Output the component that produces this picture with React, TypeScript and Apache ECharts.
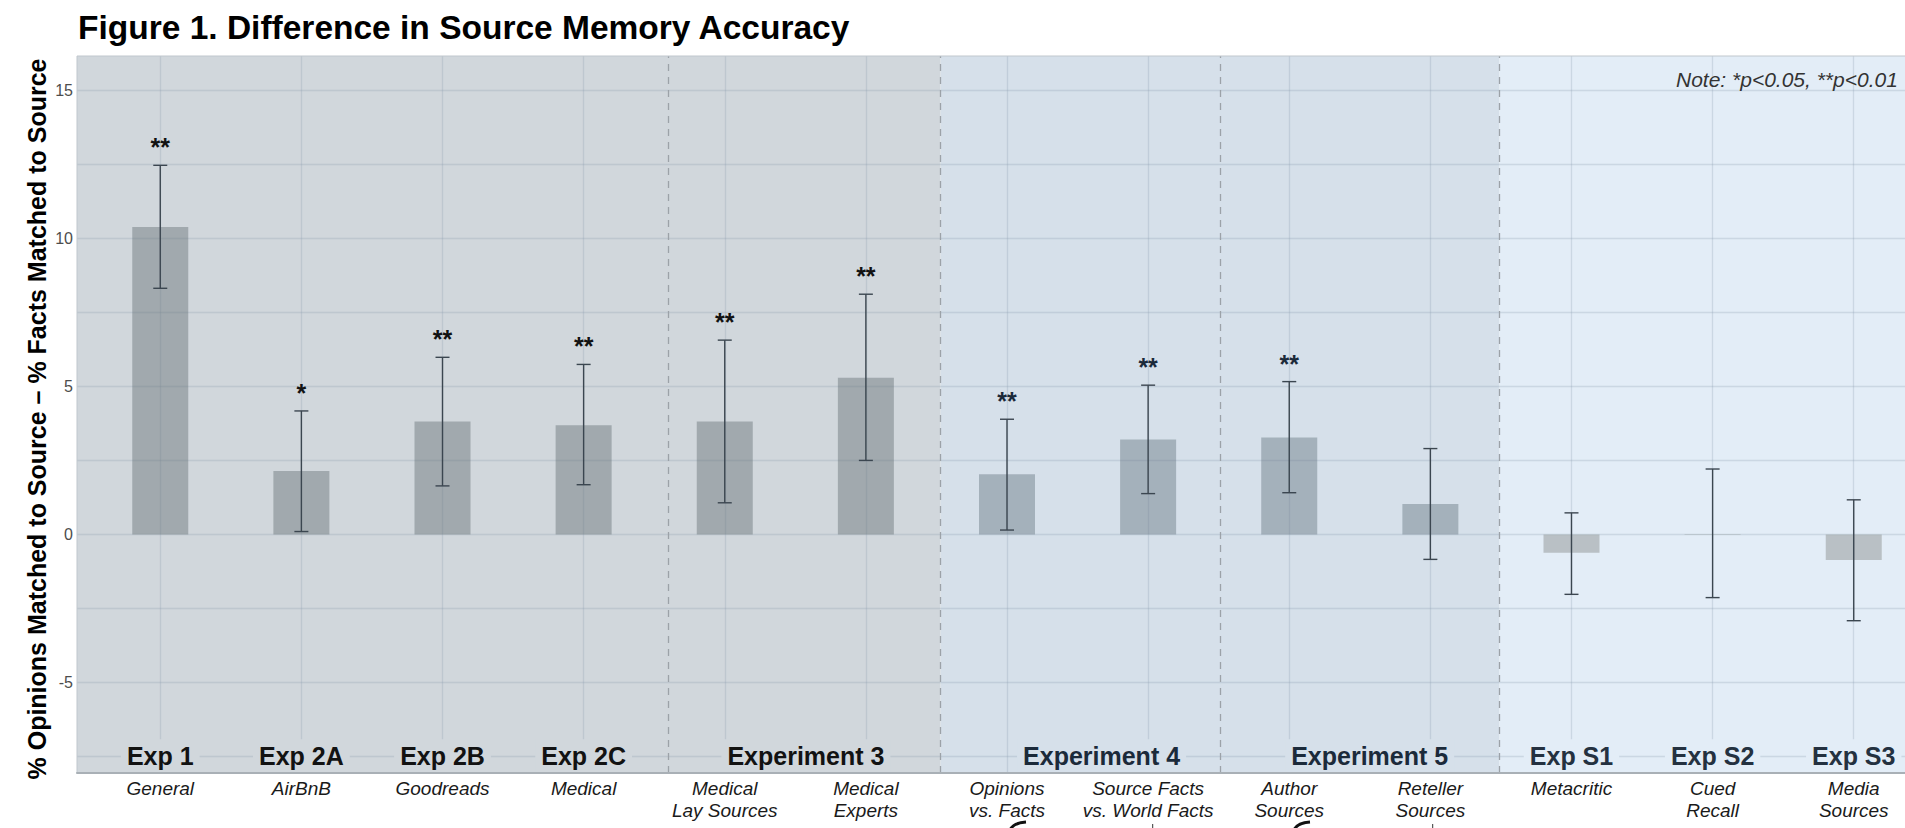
import React, { useEffect, useRef } from 'react';
import * as echarts from 'echarts';

// ---------- data ----------
const categories = [
  'General', 'AirBnB', 'Goodreads', 'Medical', 'Medical\nLay Sources', 'Medical\nExperts',
  'Opinions\nvs. Facts', 'Source Facts\nvs. World Facts', 'Author\nSources', 'Reteller\nSources',
  'Metacritic', 'Cued\nRecall', 'Media\nSources',
];
const means = [10.38, 2.14, 3.81, 3.69, 3.81, 5.29, 2.03, 3.21, 3.27, 1.03, -0.62, 0.02, -0.86];
const ciLow = [8.31, 0.10, 1.64, 1.68, 1.07, 2.50, 0.15, 1.38, 1.41, -0.84, -2.02, -2.13, -2.91];
const ciHigh = [12.46, 4.17, 5.98, 5.74, 6.56, 8.11, 3.89, 5.04, 5.16, 2.90, 0.73, 2.21, 1.17];
const stars = ['**', '*', '**', '**', '**', '**', '**', '**', '**', '', '', '', ''];
const groupNames = ['Exp 1', 'Exp 2A', 'Exp 2B', 'Exp 2C', 'Experiment 3', 'Experiment 4', 'Experiment 5', 'Exp S1', 'Exp S2', 'Exp S3'];
const groupCenters = [0, 1, 2, 3, 4.575, 6.67, 8.57, 10, 11, 12];
const yTickValues = [-5, 0, 5, 10, 15];
const yGridValues = [-7.5, -5, -2.5, 0, 2.5, 5, 7.5, 10, 12.5, 15];

// ---------- layout / style ----------
const X_MIN = -0.59;
const X_MAX = 12.59;
const Y_MIN = -8.05;
const Y_MAX = 16.15;
const GROUP_LABEL_Y = -7.47;
const regionEdges = [X_MIN, 5.53, 9.49, X_MAX];
const dashedAt = [3.6, 5.53, 7.506, 9.49];
const regionFill = ['#d1d7dc', '#d6e0ea', '#e3edf7'];
const barFill = ['rgba(102,113,118,0.45)', 'rgba(105,120,130,0.45)', 'rgba(134,137,136,0.45)'];
const textInk = ['#121212', '#1b2a3a', '#243140'];
const FONT = "'Liberation Sans', Arial, Helvetica, sans-serif";

const regionOf = (x: number) => (x < regionEdges[1] ? 0 : x < regionEdges[2] ? 1 : 2);

export default function App() {
  const ref = useRef<HTMLDivElement>(null);

  useEffect(() => {
    if (!ref.current) return;
    const chart = echarts.init(ref.current, undefined, { renderer: 'svg' });

    const option: any = {
      animation: false,
      backgroundColor: '#ffffff',
      grid: {
        left: 77, top: 56, width: 1860, height: 717,
        show: true, z: 20, borderColor: '#c0c7cd', borderWidth: 1, backgroundColor: 'transparent',
      },
      xAxis: {
        type: 'value', min: X_MIN, max: X_MAX,
        axisLine: { show: true, onZero: false, lineStyle: { color: '#a9b0b6', width: 2 } },
        axisTick: { show: false },
        splitLine: { show: false },
        z: 20,
        axisLabel: {
          customValues: categories.map((_, i) => i),
          formatter: (v: number) => categories[Math.round(v)] ?? '',
          fontStyle: 'italic', fontSize: 19, lineHeight: 22, color: '#1a1a1a',
          fontFamily: FONT, margin: 4,
        },
      },
      yAxis: {
        type: 'value', min: Y_MIN, max: Y_MAX,
        axisLine: { show: false },
        splitLine: { show: false },
        axisTick: { show: true, customValues: yTickValues, length: 5, lineStyle: { color: '#9a9a9a' } },
        axisLabel: { customValues: yTickValues, color: '#4d4d4d', fontSize: 16, fontFamily: FONT, margin: 4 },
      },
      series: [
        {
          type: 'line', data: [], silent: true, z: 1,
          markArea: {
            silent: true,
            itemStyle: { borderWidth: 0 },
            data: regionFill.map((c, i) => [
              { xAxis: regionEdges[i], yAxis: Y_MIN, itemStyle: { color: c } },
              { xAxis: regionEdges[i + 1], yAxis: Y_MAX },
            ]),
          },
          markLine: {
            silent: true, symbol: 'none', label: { show: false },
            lineStyle: { color: 'rgba(140,158,176,0.28)', width: 1.3, type: 'solid' },
            data: [
              ...yGridValues.map((v) => ({ yAxis: v })),
              ...categories.map((_, i) => ({ xAxis: i })),
              ...dashedAt.map((v) => ({ xAxis: v, lineStyle: { color: '#9ca2a8', width: 1.3, type: [7, 6] } })),
            ],
          },
        },
        {
          type: 'bar', z: 10, barWidth: 56,
          data: means.map((v, i) => ({ value: [i, v], itemStyle: { color: barFill[regionOf(i)] } })),
        },
        {
          type: 'custom', z: 11,
          encode: { x: 0, y: [1, 2] },
          data: means.map((_, i) => [i, ciLow[i], ciHigh[i]]),
          renderItem: (params: any, api: any) => {
            const x = api.value(0);
            const pLo = api.coord([x, api.value(1)]);
            const pHi = api.coord([x, api.value(2)]);
            const cap = 7;
            const style = { stroke: '#3b4650', lineWidth: 1.4 };
            const children: any[] = [
              { type: 'line', shape: { x1: pHi[0], y1: pHi[1], x2: pLo[0], y2: pLo[1] }, style },
              { type: 'line', shape: { x1: pHi[0] - cap, y1: pHi[1], x2: pHi[0] + cap, y2: pHi[1] }, style },
              { type: 'line', shape: { x1: pLo[0] - cap, y1: pLo[1], x2: pLo[0] + cap, y2: pLo[1] }, style },
            ];
            const s = stars[params.dataIndex];
            if (s) {
              children.push({
                type: 'text', x: pHi[0], y: pHi[1] - 18,
                style: {
                  text: s, fill: textInk[regionOf(x)], font: `bold 25px ${FONT}`,
                  align: 'center', verticalAlign: 'middle',
                },
              });
            }
            return { type: 'group', children };
          },
        },
        {
          type: 'custom', z: 12,
          encode: { x: 0, y: 1 },
          data: groupCenters.map((c) => [c, GROUP_LABEL_Y]),
          renderItem: (params: any, api: any) => {
            const x = api.value(0);
            const p = api.coord([x, api.value(1)]);
            const r = regionOf(x);
            return {
              type: 'text', x: p[0], y: p[1],
              style: {
                text: groupNames[params.dataIndex], fill: textInk[r],
                font: `bold 25px ${FONT}`, lineHeight: 25,
                align: 'center', verticalAlign: 'middle',
                backgroundColor: regionFill[r], padding: [4, 6],
              },
            };
          },
        },
      ],
      graphic: [
        {
          type: 'text', x: 78, y: 27, z: 30,
          style: { text: 'Figure 1. Difference in Source Memory Accuracy', font: `bold 33.5px ${FONT}`, fill: '#000', verticalAlign: 'middle' },
        },
        {
          type: 'text', x: 1676, y: 79.5, z: 30,
          style: { text: 'Note: *p<0.05, **p<0.01', font: `italic 21px ${FONT}`, fill: '#333', verticalAlign: 'middle' },
        },
        {
          type: 'text', x: 36.5, y: 419, rotation: Math.PI / 2, z: 30,
          style: {
            text: '% Opinions Matched to Source \u2013 % Facts Matched to Source',
            font: `bold 25px ${FONT}`, fill: '#000', align: 'center', verticalAlign: 'middle',
          },
        },
        { type: 'bezierCurve', z: 30, shape: { x1: 1010, y1: 830, x2: 1026, y2: 822, cpx1: 1013, cpy1: 823 }, style: { stroke: '#111', lineWidth: 3, fill: null } },
        { type: 'bezierCurve', z: 30, shape: { x1: 1294, y1: 830, x2: 1310, y2: 822, cpx1: 1297, cpy1: 823 }, style: { stroke: '#111', lineWidth: 3, fill: null } },
        { type: 'line', z: 30, shape: { x1: 1152.7, y1: 824, x2: 1152.7, y2: 830 }, style: { stroke: '#333', lineWidth: 1 } },
        { type: 'line', z: 30, shape: { x1: 1432.7, y1: 824, x2: 1432.7, y2: 830 }, style: { stroke: '#333', lineWidth: 1 } },
      ],
    };

    chart.setOption(option);
    return () => chart.dispose();
  }, []);

  return (
    <div style={{ position: 'fixed', left: 0, top: 0, width: 1905, height: 828, overflow: 'hidden', background: '#fff' }}>
      <div ref={ref} style={{ width: 1950, height: 828 }} />
    </div>
  );
}
